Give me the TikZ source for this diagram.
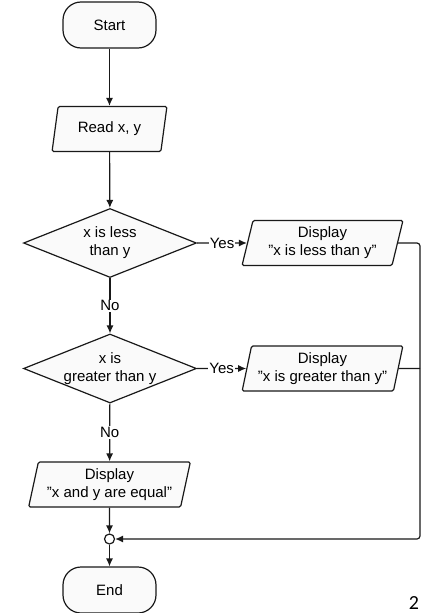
\documentclass[tikz,border=0pt]{standalone}
\usepackage{fontspec}
\setmainfont{Liberation Sans}
\newfontfamily\pagefont{Carlito}
\usetikzlibrary{shapes.geometric,arrows.meta}
\newcommand{\qq}{\symbol{34}}
\begin{document}
\begin{tikzpicture}[x=1pt,y=-1pt,
 every node/.style={font=\fontsize{15}{18}\selectfont},
 base/.style={draw=black!90, line width=1.2pt, fill=black!2, inner sep=0pt},
 term/.style={base, rectangle, rounded corners=18pt, minimum width=93pt, minimum height=46pt},
 io/.style={base, trapezium, trapezium left angle=75, trapezium right angle=105, trapezium stretches=true, minimum height=45pt, rounded corners=1.5pt, align=center},
 dec/.style={base, diamond, minimum width=173pt, minimum height=69pt},
 joint/.style={base, circle, minimum size=10pt, fill=white},
 conn/.style={line width=1.2pt, draw=black!90},
 arr/.style={conn, -{Latex[length=8pt,width=7pt]}},
 lbl/.style={fill=white, inner sep=1pt},
]
\useasboundingbox (0,0) rectangle (424,613);
\node[term] (start) at (109.5,25) {Start};
\node[io, minimum width=115pt] (read) at (109.5,129) {Read x, y};
\node[dec, label={[align=center]center:x is less\\than y}] (d1) at (110,243) {};
\node[io, minimum width=161pt] (b1) at (322.5,243) {Display\\\qq x is less than y\qq};
\node[dec, label={[align=center]center:x is\\greater than y}] (d2) at (110,368.5) {};
\node[io, minimum width=161pt] (b2) at (322.5,368.5) {Display\\\qq x is greater than y\qq};
\node[io, minimum width=162pt] (b3) at (109.5,484.5) {Display\\\qq x and y are equal\qq};
\node[joint] (j) at (109.5,539) {};
\node[term] (end) at (109.5,590) {End};
\coordinate (r1) at (420,243);
\node[font=\pagefont\fontsize{20}{20}\selectfont, anchor=base, inner sep=0pt] (pg) at (414,609) {2};

\draw[arr] (start) -- (read);
\draw[arr] (read) -- (d1);
\draw[arr] (d1) -- node[lbl]{Yes} (b1);
\draw[arr] (d1) -- node[lbl]{No} (d2);
\draw[arr] (d2) -- node[lbl]{Yes} (b2);
\draw[arr] (d2) -- node[lbl]{No} (b3);
\draw[arr] (b3) -- (j);
\draw[arr] (j) -- (end);
\draw[arr, rounded corners=3pt] (b1) -- (r1) |- (j);
\draw[conn] (b2) -- (b2 -| r1);
\end{tikzpicture}
\end{document}
